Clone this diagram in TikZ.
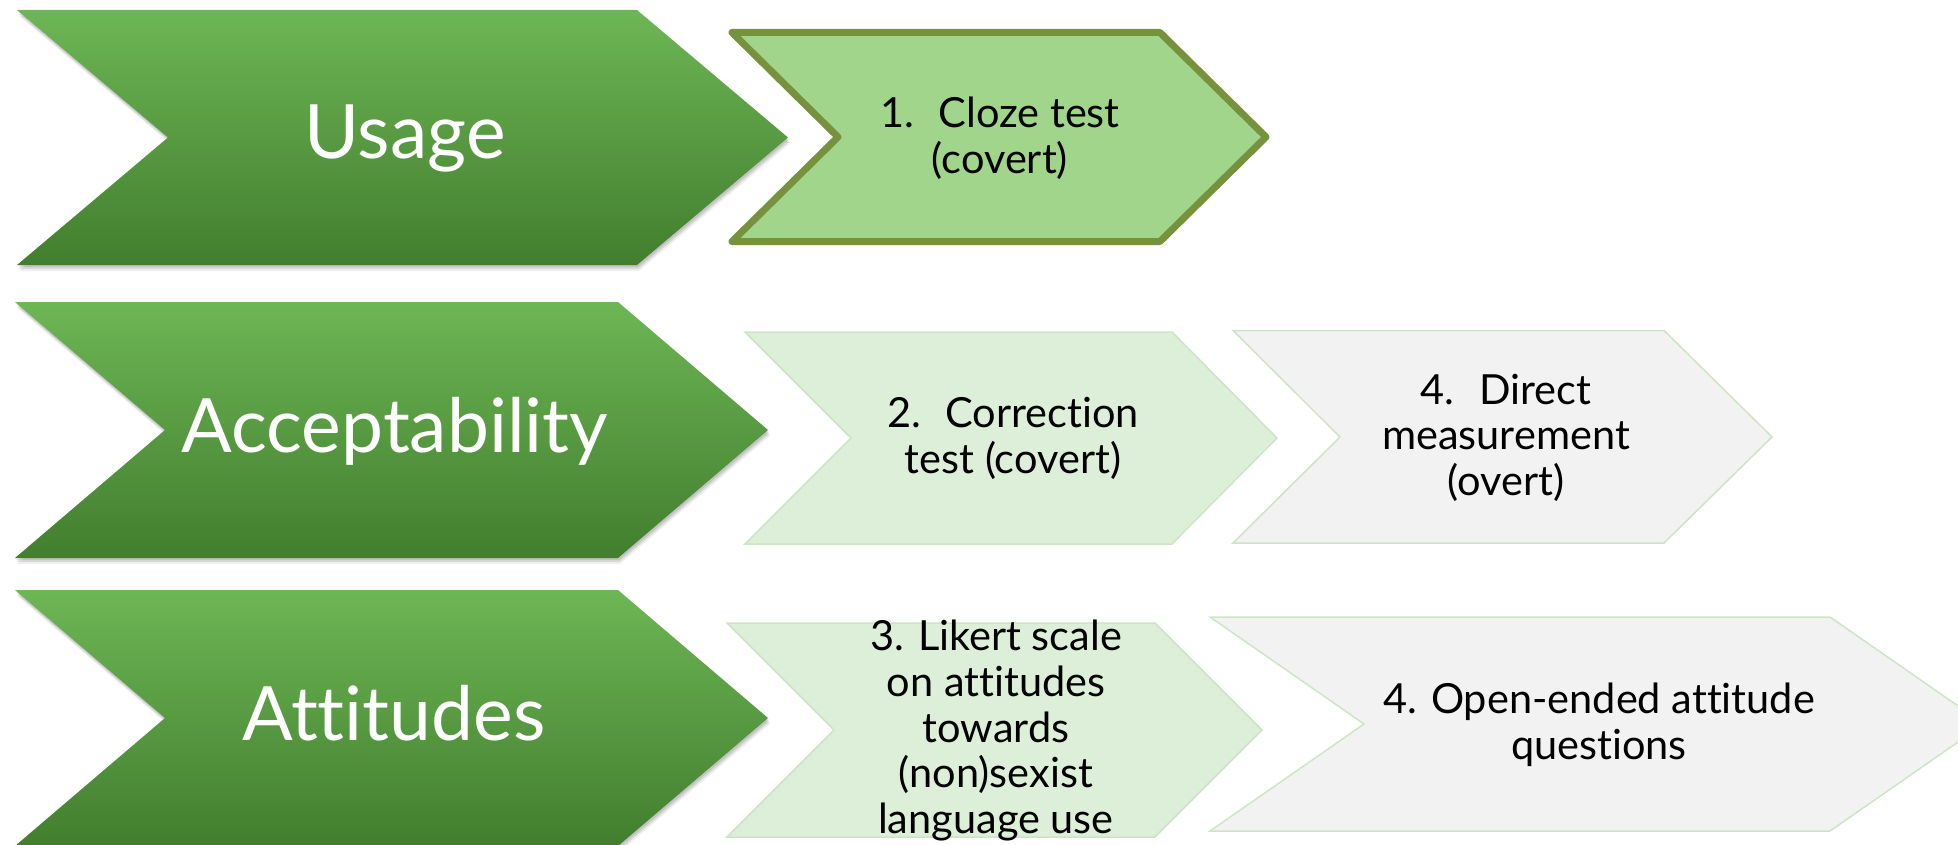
\documentclass[tikz,border=0pt]{standalone}
\usepackage{fontspec}
\setmainfont[Ligatures=NoCommon]{Lato}
\begin{document}
\definecolor{gtop}{RGB}{109,182,85}
\definecolor{gbot}{RGB}{66,126,46}
\definecolor{lfill}{RGB}{160,213,139}
\definecolor{lline}{RGB}{118,146,60}
\definecolor{pfill}{RGB}{222,239,217}
\definecolor{pline}{RGB}{206,228,198}
\definecolor{gyfill}{RGB}{242,242,242}
\begin{tikzpicture}[x=1pt,y=-1pt,
  softshadow/.style={
    preaction={fill=black,opacity=.10,transform canvas={xshift=1pt,yshift=-2pt}},
    preaction={fill=black,opacity=.10,transform canvas={xshift=1.5pt,yshift=-4pt}},
    preaction={fill=black,opacity=.06,transform canvas={xshift=2pt,yshift=-6pt}}},
  stage/.style={softshadow,top color=gtop,bottom color=gbot,draw=none},
  active/.style={fill=lfill,draw=lline,line width=7pt,line join=round},
  pale/.style={fill=pfill,draw=pline,line width=1.5pt},
  grey/.style={fill=gyfill,draw=pline,line width=1.5pt},
  stagetext/.style={text=white,inner sep=0pt,anchor=base,font=\fontsize{75}{80}\selectfont},
  steptext/.style={text=black,inner sep=0pt,anchor=center,align=center,font=\fontsize{41.5}{45.6}\selectfont}]
\useasboundingbox (0,0) rectangle (1958,845);
\clip (0,0) rectangle (1958,845);

% row 1: usage
\path[stage] (17,10) -- (637,10) -- (788,137.5) -- (637,265) -- (17,265) -- (168,137.5) -- cycle;
\node[stagetext] (usage) at (405,159) {Usage};
\path[active] (732,32.5) -- (1160,32.5) -- (1266,137) -- (1160,241.5) -- (732,241.5) -- (838,137) -- cycle;
\node[steptext] (cloze) at (1000,138) {1.\hspace{0.25em} Cloze test\\(covert)};

% row 2: acceptability
\path[stage] (15,302) -- (618,302) -- (768,430) -- (618,558) -- (15,558) -- (165,430) -- cycle;
\node[stagetext] (accept) at (395,452.7) {Acceptability};
\path[pale] (745,332) -- (1172,332) -- (1277,438) -- (1172,544) -- (745,544) -- (851,438) -- cycle;
\node[steptext] (correct) at (1013,438.5) {2.\hspace{0.25em} Correction\\test (covert)};
\path[grey] (1233,330.5) -- (1664,330.5) -- (1772,437) -- (1664,543) -- (1233,543) -- (1340,437) -- cycle;
\node[steptext] (direct) at (1506,437.5) {4.\hspace{0.25em} Direct\\measurement\\(overt)};

% row 3: attitudes
\path[stage] (15,590) -- (618,590) -- (768,718) -- (618,846) -- (15,846) -- (165,718) -- cycle;
\node[stagetext] (attit) at (394,740) {Attitudes};
\path[pale] (727,623) -- (1155,623) -- (1262,730) -- (1155,837) -- (727,837) -- (834,730) -- cycle;
\node[steptext] (likert) at (996,730.5) {3. Likert scale\\on attitudes\\towards\\(non)sexist\\language use};
\path[grey] (1210,617) -- (1830,617) -- (1984,724) -- (1830,831) -- (1210,831) -- (1364,724) -- cycle;
\node[steptext] (open) at (1599,725) {4. Open-ended attitude\\questions};
\end{tikzpicture}
\end{document}
